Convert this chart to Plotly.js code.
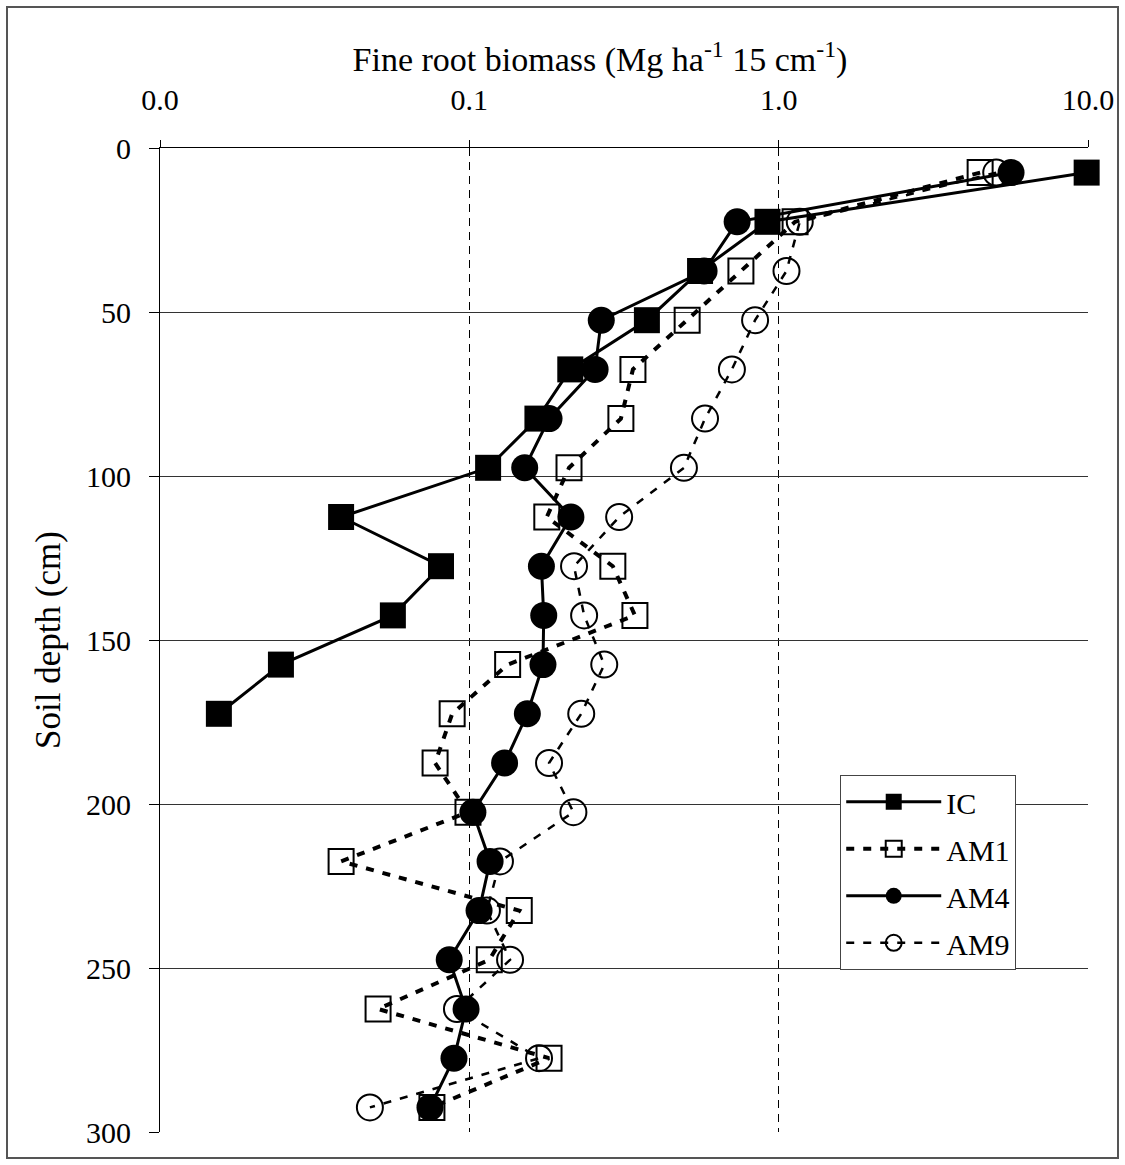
<!DOCTYPE html>
<html>
<head>
<meta charset="utf-8">
<script src="https://cdn.plot.ly/plotly-3.0.1.min.js"></script>
<style>html,body{margin:0;padding:0;background:#fff;}#chart{width:1125px;height:1165px;}</style>
</head>
<body>
<div id="chart"></div>
<script>
const depth = [7.5,22.5,37.5,52.5,67.5,82.5,97.5,112.5,127.5,142.5,157.5,172.5,187.5,202.5,217.5,232.5,247.5,262.5,277.5,292.5];
const icDepth = depth.slice(0,12);
const IC  = [9.9,0.92,0.557,0.375,0.212,0.166,0.115,0.0385,0.081,0.0566,0.0246,0.0155];
const AM1 = [4.48,1.13,0.755,0.506,0.338,0.309,0.21,0.178,0.291,0.343,0.133,0.088,0.0775,0.099,0.0385,0.145,0.116,0.0507,0.181,0.0757];
const AM4 = [5.64,0.734,0.574,0.267,0.255,0.181,0.151,0.213,0.171,0.174,0.173,0.154,0.130,0.1027,0.1167,0.1075,0.0861,0.0976,0.0892,0.0746];
const AM9 = [5.05,1.17,1.06,0.839,0.706,0.578,0.494,0.305,0.218,0.235,0.273,0.230,0.181,0.217,0.1256,0.114,0.1354,0.0912,0.168,0.0477];
const xTickVals = [0.01,0.1,1,10];
const xTickText = ['0.0','0.1','1.0','10.0'];
const yTickVals = [0,50,100,150,200,250,300];

const font = {family:'"Liberation Serif","Times New Roman",serif', color:'#000'};

const traces = [
  {name:'IC', x:IC, y:icDepth, mode:'lines+markers', legendgroup:'a', cliponaxis:false,
   line:{color:'#000', width:3},
   marker:{symbol:'square', size:26, color:'#000'}},
  {name:'AM1', x:AM1, y:depth, mode:'lines+markers', legendgroup:'b', cliponaxis:false,
   line:{color:'#000', width:4, dash:'8px,9px'},
   marker:{symbol:'square-open', size:25, color:'#000', line:{width:2, color:'#000'}}},
  {name:'AM4', x:AM4, y:depth, mode:'lines+markers', legendgroup:'c', cliponaxis:false,
   line:{color:'#000', width:3},
   marker:{symbol:'circle', size:27, color:'#000'}},
  {name:'AM9', x:AM9, y:depth, mode:'lines+markers', legendgroup:'d', cliponaxis:false,
   line:{color:'#000', width:2.5, dash:'8px,9px'},
   marker:{symbol:'circle-open', size:26, color:'#000', line:{width:2, color:'#000'}}}
];

const layout = {
  width:1125, height:1165,
  margin:{l:160, r:37, t:148, b:33},
  paper_bgcolor:'#fff', plot_bgcolor:'#fff',
  font: Object.assign({size:30}, font),
  title:{text:'Fine root biomass (Mg ha<sup>-1</sup> 15 cm<sup>-1</sup>)',
    font:Object.assign({size:34}, font),
    xref:'container', yref:'container', x:600/1125, xanchor:'center',
    y:1-59/1165, yanchor:'middle'},
  showlegend:true,
  legend:{x:0.733, y:0.363, xanchor:'left', yanchor:'top',
    bgcolor:'#fff', bordercolor:'#444', borderwidth:1, itemwidth:95,
    font:Object.assign({size:30}, font), traceorder:'grouped', tracegroupgap:5},
  xaxis:{type:'log', side:'top', range:[-2,1],
    tickvals:xTickVals, ticktext:xTickText,
    ticks:'outside', ticklen:7, tickcolor:'#000', tickwidth:1,
    ticklabelstandoff:18,
    showline:true, linecolor:'#000', linewidth:1,
    showgrid:true, gridcolor:'#000', gridwidth:1, griddash:'8px,6px',
    zeroline:false,
    tickfont:Object.assign({size:30}, font)},
  yaxis:{range:[300,0], tickvals:yTickVals,
    ticks:'outside', ticklen:10, tickcolor:'#000', tickwidth:1,
    ticklabelstandoff:12,
    showline:true, linecolor:'#000', linewidth:1,
    showgrid:true, gridcolor:'#333', gridwidth:1,
    zeroline:false,
    tickfont:Object.assign({size:30}, font),
    title:{text:'Soil depth (cm)', font:Object.assign({size:35}, font), standoff:14}},
  shapes:[{type:'rect', xref:'paper', yref:'paper',
    x0:(7-160)/928, x1:(1118-160)/928, y0:1-(1158-148)/984, y1:1+(148-7)/984,
    line:{color:'#555', width:2}, fillcolor:'rgba(0,0,0,0)'}]
};

Plotly.newPlot('chart', traces, layout, {displayModeBar:false, responsive:false});
</script>
</body>
</html>
